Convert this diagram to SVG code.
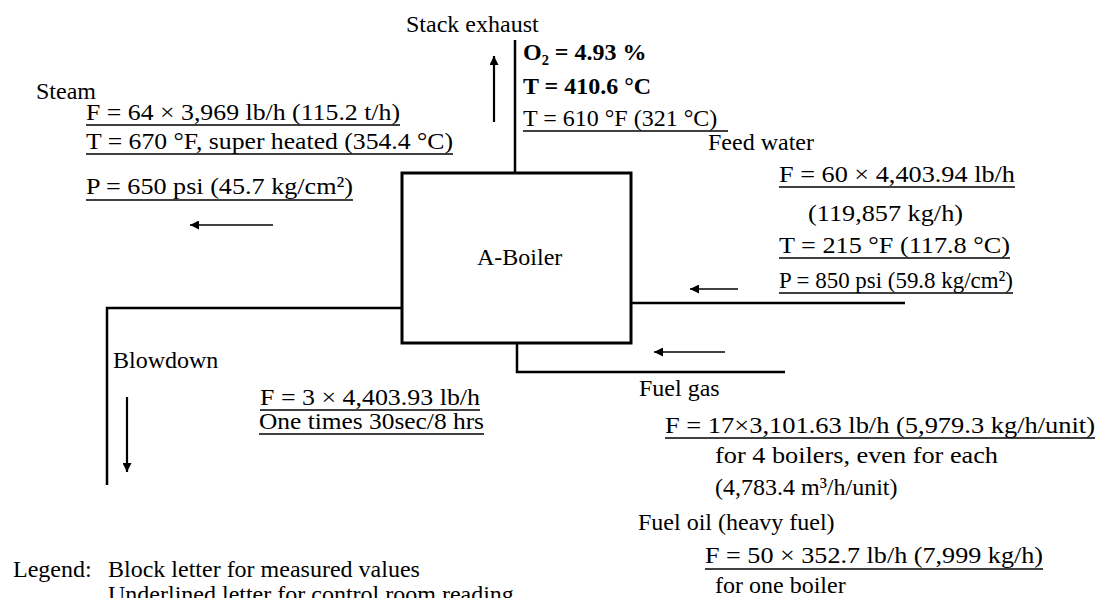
<svg xmlns="http://www.w3.org/2000/svg" width="1102" height="598" viewBox="0 0 1102 598">
<style>
text{font-family:"Liberation Serif","DejaVu Serif",serif;font-size:24px;fill:#000}
.b{font-weight:bold}
.ul{stroke:#000;stroke-width:1.6;fill:none}
.pipe{stroke:#000;stroke-width:2.5;fill:none}
.flow{stroke:#000;stroke-width:1.4;fill:none}
.vflow{stroke:#000;stroke-width:2.2;fill:none}
.box{stroke:#000;stroke-width:3;fill:#fff}
</style>
<defs>
<marker id="ah" viewBox="0 0 10 10" refX="10" refY="5" markerUnits="userSpaceOnUse" markerWidth="10" markerHeight="9" orient="auto">
<path d="M0,0 L10,5 L0,10 z" fill="#000"/>
</marker>
</defs>
<rect width="1102" height="598" fill="#fff"/>

<g id="connectors">
<line class="pipe" x1="515" y1="40" x2="515" y2="173"/>
<polyline class="pipe" points="402,308 107,308 107,485"/>
<line class="pipe" x1="631" y1="303" x2="905" y2="303"/>
<polyline class="pipe" points="517,343 517,372 785,372"/>
<line class="vflow" x1="494" y1="122" x2="494" y2="56" marker-end="url(#ah)"/>
<line class="vflow" x1="127" y1="397" x2="127" y2="472" marker-end="url(#ah)"/>
<line class="flow" x1="273" y1="225" x2="190" y2="225" marker-end="url(#ah)"/>
<line class="flow" x1="738" y1="289" x2="690" y2="289" marker-end="url(#ah)"/>
<line class="flow" x1="725" y1="352" x2="654" y2="352" marker-end="url(#ah)"/>
</g>

<g id="boiler">
<rect class="box" x="402" y="173" width="229" height="170"/>
<text x="477" y="265">A-Boiler</text>
</g>

<g id="stack">
<text x="406" y="32">Stack exhaust</text>
<text class="b" x="523" y="60">O₂ = 4.93 %</text>
<text class="b" x="523" y="94">T = 410.6 °C</text>
<text x="523" y="126">T = 610 °F (321 °C)</text>
<line class="ul" x1="523" y1="131" x2="728" y2="131"/>
</g>

<g id="steam">
<text x="36" y="99">Steam</text>
<text x="86" y="120" textLength="314" lengthAdjust="spacingAndGlyphs">F = 64 × 3,969 lb/h (115.2 t/h)</text>
<line class="ul" x1="86" y1="125" x2="400" y2="125"/>
<text x="86" y="149" textLength="367" lengthAdjust="spacingAndGlyphs">T = 670 °F, super heated (354.4 °C)</text>
<line class="ul" x1="86" y1="154" x2="453" y2="154"/>
<text x="86" y="194" textLength="267" lengthAdjust="spacingAndGlyphs">P = 650 psi (45.7 kg/cm²)</text>
<line class="ul" x1="86" y1="200" x2="353" y2="200"/>
</g>

<g id="feedwater">
<text x="708" y="150">Feed water</text>
<text x="779" y="182" textLength="236" lengthAdjust="spacingAndGlyphs">F = 60 × 4,403.94 lb/h</text>
<line class="ul" x1="779" y1="187" x2="1015" y2="187"/>
<text x="808" y="221" textLength="155" lengthAdjust="spacingAndGlyphs">(119,857 kg/h)</text>
<text x="779" y="253" textLength="231" lengthAdjust="spacingAndGlyphs">T = 215 °F (117.8 °C)</text>
<line class="ul" x1="779" y1="258" x2="1010" y2="258"/>
<text x="779" y="288" textLength="234" lengthAdjust="spacingAndGlyphs">P = 850 psi (59.8 kg/cm²)</text>
<line class="ul" x1="779" y1="293" x2="1013" y2="293"/>
</g>

<g id="blowdown">
<text x="113" y="368">Blowdown</text>
<text x="260" y="405" textLength="220" lengthAdjust="spacingAndGlyphs">F = 3 × 4,403.93 lb/h</text>
<line class="ul" x1="260" y1="410" x2="480" y2="410"/>
<text x="259" y="429" textLength="225" lengthAdjust="spacingAndGlyphs">One times 30sec/8 hrs</text>
<line class="ul" x1="259" y1="434" x2="484" y2="434"/>
</g>

<g id="fuel">
<text x="639" y="396">Fuel gas</text>
<text x="665" y="433" textLength="430" lengthAdjust="spacingAndGlyphs">F = 17×3,101.63 lb/h (5,979.3 kg/h/unit)</text>
<line class="ul" x1="665" y1="438" x2="1095" y2="438"/>
<text x="715" y="463" textLength="283" lengthAdjust="spacingAndGlyphs">for 4 boilers, even for each</text>
<text x="715" y="495">(4,783.4 m³/h/unit)</text>
<text x="638" y="530">Fuel oil (heavy fuel)</text>
<text x="705" y="563" textLength="338" lengthAdjust="spacingAndGlyphs">F = 50 × 352.7 lb/h (7,999 kg/h)</text>
<line class="ul" x1="705" y1="569" x2="1043" y2="569"/>
<text x="715" y="593">for one boiler</text>
</g>

<g id="legend">
<text x="13" y="577">Legend:</text>
<text x="108" y="577">Block letter for measured values</text>
<text x="108" y="602">Underlined letter for control room reading</text>
</g>
</svg>
